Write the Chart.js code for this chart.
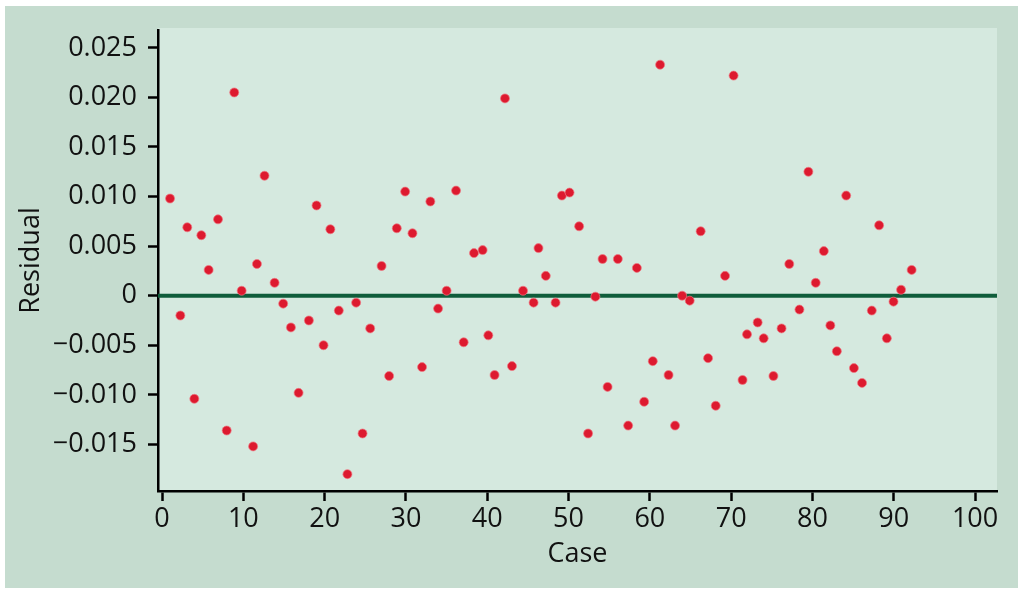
<!DOCTYPE html>
<html>
<head>
<meta charset="utf-8">
<script src="https://cdn.jsdelivr.net/npm/chart.js@4"></script>
<style>
  body { margin: 0; background: #fff; }
  canvas { display: block; }
</style>
</head>
<body>
<canvas id="residuals" width="1024" height="594"></canvas>
<script>
// case number (x) and residual (y)
var caseNums = [0.98, 2.25, 3.1, 3.97, 4.83, 5.73, 6.88, 7.95, 8.88, 9.79,
  11.2, 11.67, 12.6, 13.84, 14.9, 15.85, 16.79, 18.06, 19.0, 19.86,
  20.7, 21.74, 22.8, 23.87, 24.66, 25.6, 27.0, 27.93, 28.87, 29.9,
  30.8, 31.98, 33.0, 33.95, 35.0, 36.16, 37.1, 38.37, 39.43, 40.13,
  40.9, 42.18, 43.04, 44.4, 45.7, 46.3, 47.2, 48.4, 49.18, 50.12,
  51.3, 52.4, 53.3, 54.18, 54.8, 56.06, 57.33, 58.4, 59.3, 60.36,
  61.26, 62.3, 63.1, 63.97, 64.9, 66.25, 67.16, 68.1, 69.25, 70.3,
  71.4, 71.95, 73.26, 74.0, 75.2, 76.2, 77.15, 78.4, 79.5, 80.4,
  81.4, 82.2, 83.0, 84.15, 85.1, 86.1, 87.3, 88.2, 89.15, 89.97,
  90.9, 92.2];
var residuals = [0.0098, -0.0020, 0.0069, -0.0104, 0.0061, 0.0026, 0.0077, -0.0136, 0.0205, 0.0005,
  -0.0152, 0.0032, 0.0121, 0.0013, -0.0008, -0.0032, -0.0098, -0.0025, 0.0091, -0.0050,
  0.0067, -0.0015, -0.0180, -0.0007, -0.0139, -0.0033, 0.0030, -0.0081, 0.0068, 0.0105,
  0.0063, -0.0072, 0.0095, -0.0013, 0.0005, 0.0106, -0.0047, 0.0043, 0.0046, -0.0040,
  -0.0080, 0.0199, -0.0071, 0.0005, -0.0007, 0.0048, 0.0020, -0.0007, 0.0101, 0.0104,
  0.0070, -0.0139, -0.0001, 0.0037, -0.0092, 0.0037, -0.0131, 0.0028, -0.0107, -0.0066,
  0.0233, -0.0080, -0.0131, 0.0000, -0.0005, 0.0065, -0.0063, -0.0111, 0.0020, 0.0222,
  -0.0085, -0.0039, -0.0027, -0.0043, -0.0081, -0.0033, 0.0032, -0.0014, 0.0125, 0.0013,
  0.0045, -0.0030, -0.0056, 0.0101, -0.0073, -0.0088, -0.0015, 0.0071, -0.0043, -0.0006,
  0.0006, 0.0026];

var xTicks = [0, 10, 20, 30, 40, 50, 60, 70, 80, 90, 100];
var yTicks = [0.025, 0.020, 0.015, 0.010, 0.005, 0, -0.005, -0.010, -0.015];
var yTickLabels = ['0.025', '0.020', '0.015', '0.010', '0.005', '0',
  '\u22120.005', '\u22120.010', '\u22120.015'];
var xRange = [-0.5, 102.7];
var yRange = [-0.0197, 0.0268];

var points = caseNums.map(function (c, i) { return {x: c, y: residuals[i]}; });
var zeroLine = [{x: xRange[0], y: 0}, {x: xRange[1], y: 0}];

var bgPlugin = {
  id: 'panels',
  beforeDraw: function (chart) {
    var c = chart.ctx, a = chart.chartArea;
    c.save();
    c.fillStyle = '#ffffff';
    c.fillRect(0, 0, chart.width, chart.height);
    c.fillStyle = '#c5dccf';
    c.fillRect(5, 6, chart.width - 11, chart.height - 12);
    c.fillStyle = '#d5e9df';
    c.fillRect(a.left, a.top - 2, a.right - a.left, a.bottom - a.top + 2);
    c.restore();
  }
};

Chart.defaults.font.family = "'Open Sans', 'Noto Sans', sans-serif";
Chart.defaults.color = '#111';

var ctx = document.getElementById('residuals').getContext('2d');
var chart = new Chart(ctx, {
  type: 'scatter',
  data: {
    datasets: [{
      type: 'line',
      data: zeroLine,
      borderColor: '#0f5d3b',
      borderWidth: 4,
      pointRadius: 0,
      order: 2
    }, {
      data: points,
      backgroundColor: '#dd1a2f',
      borderColor: 'rgba(240,120,130,0.7)',
      borderWidth: 1,
      pointRadius: 4.5,
      order: 1
    }]
  },
  options: {
    responsive: false,
    animation: false,
    layout: {padding: {top: 30, right: 27, bottom: 0, left: 0}},
    plugins: {legend: {display: false}, tooltip: {enabled: false}},
    scales: {
      x: {
        type: 'linear',
        min: xRange[0],
        max: xRange[1],
        afterBuildTicks: function (s) { s.ticks = xTicks.map(function (v) { return {value: v}; }); },
        afterFit: function (s) { s.height = 103; },
        grid: {drawOnChartArea: false, tickLength: 10, tickWidth: 2.5, tickColor: '#000'},
        border: {color: '#000', width: 2.5},
        ticks: {font: {size: 27}, padding: 2, maxRotation: 0, color: '#111'},
        title: {display: true, text: 'Case', font: {size: 27}, padding: {bottom: 23}, color: '#111'}
      },
      y: {
        min: yRange[0],
        max: yRange[1],
        afterBuildTicks: function (s) { s.ticks = yTicks.map(function (v) { return {value: v}; }); },
        afterFit: function (s) { s.width = 158; },
        grid: {drawOnChartArea: false, tickLength: 10, tickWidth: 2.5, tickColor: '#000'},
        border: {color: '#000', width: 2.5},
        ticks: {
          font: {size: 27},
          padding: 11,
          color: '#111',
          callback: function (v) {
            var i = yTicks.findIndex(function (t) { return Math.abs(t - v) < 1e-9; });
            return i >= 0 ? yTickLabels[i] : '';
          }
        },
        title: {display: true, text: 'Residual', font: {size: 27}, padding: {top: 15}, color: '#111'}
      }
    }
  },
  plugins: [bgPlugin]
});
</script>
</body>
</html>
